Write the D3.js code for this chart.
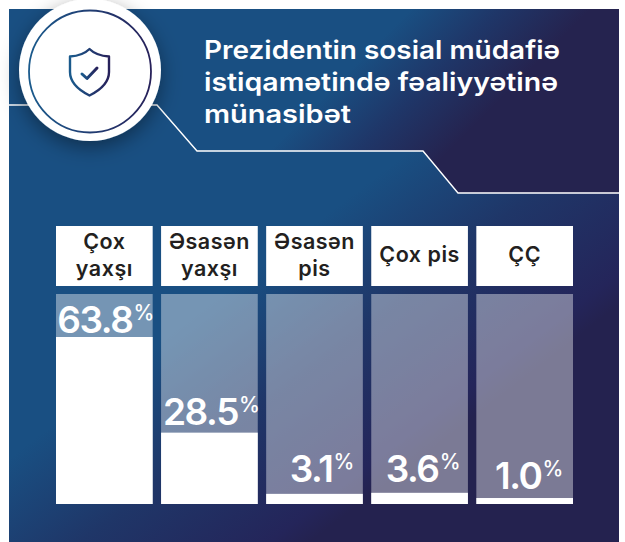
<!DOCTYPE html>
<html>
<head>
<meta charset="utf-8">
<script src="https://cdn.jsdelivr.net/npm/d3@7"></script>
<style>
html, body { margin: 0; padding: 0; background: #fff; }
svg { display: block; }
text { font-family: Inter, "Open Sans", sans-serif; }
</style>
</head>
<body>
<svg></svg>
<script>
const categories = [["Çox", "yaxşı"], ["Əsasən", "yaxşı"], ["Əsasən", "pis"], ["Çox pis"], ["ÇÇ"]];
const values = [63.8, 28.5, 3.1, 3.6, 1.0];
const titleLines = ["Prezidentin sosial müdafiə", "istiqamətində fəaliyyətinə", "münasibət"];

// the labels do not sit at a fixed distance from the bars in the original
const labelGap = [4, 8, 12, 11, 9];
const labelShift = [1.5, 2, 7.5, 3.5, 4.5];
// Inter is narrower than the original face, so stretch the title lines
const titleWidths = [356, 354, 147];

const width = 625;
const height = 542;

const svg = d3.select("svg")
    .attr("width", width)
    .attr("height", height);

const defs = svg.append("defs");

function addGradient(id, x1, y1, x2, y2, stops) {
    const g = defs.append("linearGradient")
        .attr("id", id)
        .attr("gradientUnits", "userSpaceOnUse")
        .attr("x1", x1).attr("y1", y1)
        .attr("x2", x2).attr("y2", y2);
    stops.forEach(s => g.append("stop").attr("offset", s[0]).attr("stop-color", s[1]));
}

// the panel under the line and the header above it have separate gradients
addGradient("bg", 226, 292, 378, 490, [[0, "#194f82"], [0.44, "#1f3668"], [0.9, "#24255a"], [1, "#24224f"]]);
addGradient("head", 340, 80, 430, 170, [[0, "#194f82"], [0.5, "#1f3668"], [1, "#25234f"]]);

const ring = defs.append("linearGradient").attr("id", "ring");
ring.append("stop").attr("offset", "0").attr("stop-color", "#1a5a8c");
ring.append("stop").attr("offset", "1").attr("stop-color", "#27215a");

const shadow = defs.append("filter")
    .attr("id", "shadow")
    .attr("x", "-30%").attr("y", "-30%")
    .attr("width", "160%").attr("height", "160%");
shadow.append("feDropShadow")
    .attr("dx", 0).attr("dy", 6)
    .attr("stdDeviation", 10)
    .attr("flood-color", "#000")
    .attr("flood-opacity", 0.4);

svg.append("rect")
    .attr("x", 9).attr("y", 9)
    .attr("width", 610).attr("height", 533)
    .attr("fill", "url(#bg)");

svg.append("polygon")
    .attr("points", "9,9 619,9 619,193 458,193 423,151 197,151 157,105 9,105")
    .attr("fill", "url(#head)");

// thin line behind the badge
svg.append("polyline")
    .attr("points", "9,105 157,105 197,151 423,151 458,193 619,193")
    .attr("fill", "none")
    .attr("stroke", "#fff")
    .attr("stroke-width", 1.4);

// badge
svg.append("circle")
    .attr("cx", 90).attr("cy", 70).attr("r", 71)
    .attr("fill", "#fff")
    .attr("filter", "url(#shadow)");
svg.append("circle")
    .attr("cx", 90).attr("cy", 71.5).attr("r", 61)
    .attr("fill", "none")
    .attr("stroke", "url(#ring)")
    .attr("stroke-width", 1.8);

const icon = svg.append("g")
    .attr("transform", "translate(89.5,72)")
    .attr("fill", "none")
    .attr("stroke", "url(#ring)")
    .attr("stroke-linecap", "round")
    .attr("stroke-linejoin", "round");
icon.append("path")
    .attr("stroke-width", 2.4)
    .attr("d", "M0,-23 C5,-18 12,-16 19.5,-15.5 V0 C19.5,11 11,18 0,23.5 C-11,18 -19.5,11 -19.5,0 V-15.5 C-12,-16 -5,-18 0,-23 Z");
icon.append("path")
    .attr("stroke-width", 3)
    .attr("d", "M-7.5,2 L-2.5,6.5 L7.5,-4");

svg.append("g")
    .selectAll("text")
    .data(titleLines)
    .join("text")
    .attr("x", 204)
    .attr("y", (d, i) => 59 + i * 32)
    .attr("fill", "#fff")
    .attr("font-size", 25)
    .attr("font-weight", 600)
    .attr("textLength", (d, i) => titleWidths[i])
    .attr("lengthAdjust", "spacingAndGlyphs")
    .text(d => d);

// columns
const x = d3.scaleBand()
    .domain(d3.range(categories.length))
    .range([56, 573])
    .paddingInner(0.08)
    .paddingOuter(0);

// bars in the original are not strictly proportional, small values are boosted
const y = d3.scalePow()
    .exponent(1.1)
    .domain([0, 63.8])
    .range([499.7, 337]);

const trackTop = 294;
const trackBottom = 504;

const col = svg.append("g")
    .selectAll("g")
    .data(values)
    .join("g")
    .attr("transform", (d, i) => `translate(${x(i)},0)`);

// header boxes
col.append("rect")
    .attr("y", 226)
    .attr("width", x.bandwidth())
    .attr("height", 60)
    .attr("fill", "#fff");

col.each(function (d, i) {
    const lines = categories[i];
    d3.select(this).selectAll("text.cat")
        .data(lines)
        .join("text")
        .attr("class", "cat")
        .attr("x", x.bandwidth() / 2)
        .attr("y", (l, j) => lines.length === 1 ? 262 : 249 + j * 27)
        .attr("text-anchor", "middle")
        .attr("fill", "#231f20")
        .attr("font-size", 21.5)
        .attr("font-weight", 600)
        .style("letter-spacing", "0.5px")
        .text(l => l);
});

// pale track
col.append("rect")
    .attr("y", trackTop)
    .attr("width", x.bandwidth())
    .attr("height", trackBottom - trackTop)
    .attr("fill", "#fff")
    .attr("fill-opacity", 0.4);

// value bar
col.append("rect")
    .attr("y", d => y(d))
    .attr("width", x.bandwidth())
    .attr("height", d => trackBottom - y(d))
    .attr("fill", "#fff");

const label = col.append("text")
    .attr("x", (d, i) => x.bandwidth() / 2 + labelShift[i])
    .attr("y", (d, i) => y(d) - labelGap[i])
    .attr("text-anchor", "middle")
    .attr("fill", "#fff")
    .attr("font-weight", 600);
label.append("tspan")
    .attr("font-size", 37)
    .style("letter-spacing", "-1.4px")
    .text(d => d.toFixed(1));
label.append("tspan")
    .attr("font-size", 21)
    .attr("font-weight", 500)
    .attr("dx", 1)
    .attr("dy", -13)
    .text("%");
</script>
</body>
</html>
